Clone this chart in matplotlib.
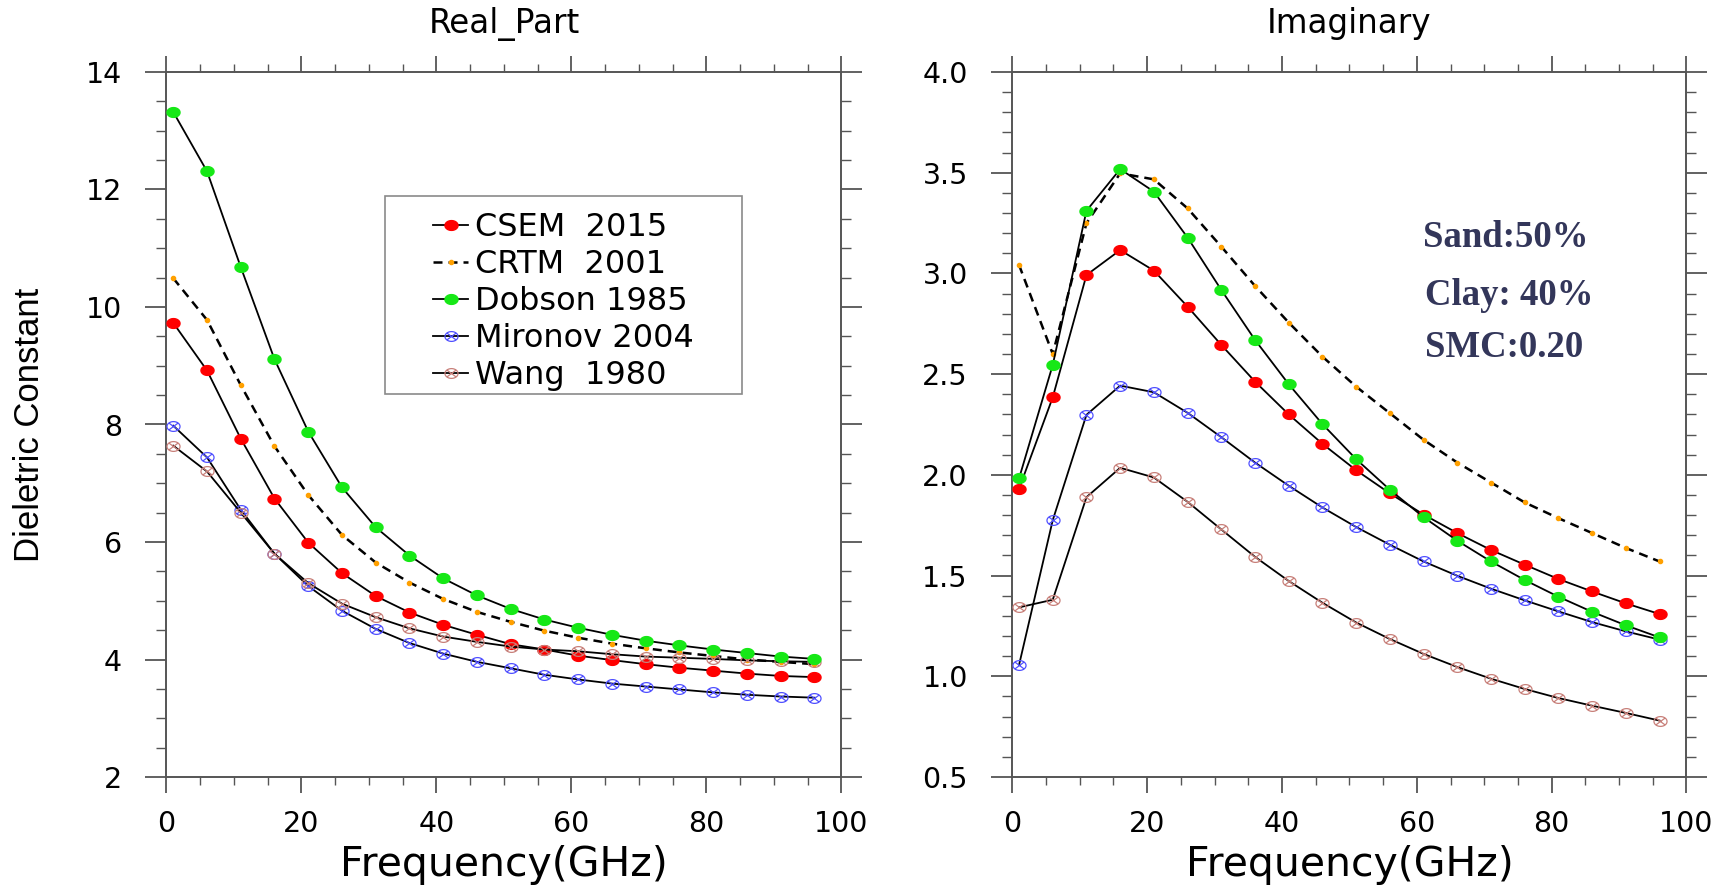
import numpy as np
import matplotlib
matplotlib.use('Agg')
import matplotlib.pyplot as plt
from matplotlib.path import Path
from matplotlib.patches import Rectangle
from matplotlib.ticker import MultipleLocator, FormatStrFormatter

# ---------------- data ----------------
freq = [1, 6, 11, 16, 21, 26, 31, 36, 41, 46, 51, 56, 61, 66, 71, 76, 81, 86, 91, 96]

real_csem = [9.73, 8.92, 7.76, 6.74, 5.99, 5.47, 5.08, 4.80, 4.59, 4.42,
             4.26, 4.17, 4.065, 3.99, 3.92, 3.86, 3.81, 3.76, 3.72, 3.70]
real_crtm = [10.49, 9.78, 8.67, 7.63, 6.80, 6.12, 5.65, 5.31, 5.03, 4.81,
             4.64, 4.49, 4.37, 4.27, 4.19, 4.12, 4.06, 4.00, 3.96, 3.92]
real_dobson = [13.32, 12.31, 10.68, 9.11, 7.88, 6.93, 6.25, 5.77, 5.38, 5.09,
               4.86, 4.68, 4.54, 4.42, 4.32, 4.24, 4.17, 4.11, 4.05, 4.01]
real_mironov = [7.98, 7.44, 6.55, 5.80, 5.25, 4.83, 4.52, 4.28, 4.10, 3.96,
                3.85, 3.74, 3.66, 3.59, 3.54, 3.49, 3.44, 3.40, 3.37, 3.35]
real_wang = [7.64, 7.20, 6.50, 5.80, 5.30, 4.95, 4.72, 4.53, 4.39, 4.30,
             4.22, 4.17, 4.14, 4.09, 4.05, 4.03, 4.01, 3.985, 3.97, 3.96]

imag_csem = [1.931, 2.385, 2.992, 3.116, 3.014, 2.835, 2.645, 2.463, 2.30, 2.154,
             2.023, 1.908, 1.803, 1.711, 1.627, 1.554, 1.483, 1.421, 1.362, 1.309]
imag_crtm = [3.042, 2.60, 3.249, 3.497, 3.467, 3.323, 3.133, 2.938, 2.756, 2.587,
             2.438, 2.306, 2.174, 2.061, 1.962, 1.863, 1.785, 1.711, 1.637, 1.57]
imag_dobson = [1.982, 2.546, 3.311, 3.518, 3.406, 3.178, 2.918, 2.67, 2.45, 2.252,
               2.078, 1.926, 1.79, 1.673, 1.57, 1.478, 1.395, 1.32, 1.253, 1.193]
imag_mironov = [1.056, 1.775, 2.298, 2.443, 2.41, 2.308, 2.187, 2.061, 1.946, 1.838,
                1.741, 1.653, 1.57, 1.499, 1.435, 1.377, 1.322, 1.269, 1.223, 1.182]
imag_wang = [1.342, 1.38, 1.889, 2.035, 1.987, 1.866, 1.729, 1.593, 1.473, 1.365,
             1.267, 1.185, 1.111, 1.046, 0.988, 0.937, 0.892, 0.854, 0.818, 0.78]

series_labels = ['CSEM  2015', 'CRTM  2001', 'Dobson 1985', 'Mironov 2004', 'Wang  1980']
panel_titles = ['Real_Part', 'Imaginary']
x_label = 'Frequency(GHz)'
y_label = 'Dieletric Constant'
notes = ['Sand:50%', 'Clay: 40%', 'SMC:0.20']

# ---------------- figure ----------------
plt.rcParams['font.family'] = ['DejaVu Sans']
W, H = 1733, 888
fig = plt.figure(figsize=(W / 100, H / 100), dpi=100)


def px_axes(x0, x1, ytop, ybot):
    return fig.add_axes([x0 / W, 1 - ybot / H, (x1 - x0) / W, (ybot - ytop) / H])


ax1 = px_axes(166.5, 841.5, 72, 777)
ax2 = px_axes(1012.3, 1686.5, 72, 777)

# elliptical markers (the reference is horizontally stretched)
t = np.linspace(0, 2 * np.pi, 49)
ell_verts = np.column_stack([np.cos(t), 0.75 * np.sin(t)])
ell_codes = [Path.MOVETO] + [Path.LINETO] * (len(t) - 2) + [Path.CLOSEPOLY]
ELL = Path(ell_verts, ell_codes)
c, s = np.cos(np.pi / 4), 0.75 * np.sin(np.pi / 4)
OTIMES = Path(np.vstack([ell_verts, [(-c, -s), (c, s), (-c, s), (c, -s)]]),
              ell_codes + [Path.MOVETO, Path.LINETO, Path.MOVETO, Path.LINETO])

styles = [
    dict(color='black', lw=1.3, marker=ELL, ms=9.4, mfc='#ff0000', mec='#ff0000', zorder=4),
    dict(color='black', lw=1.8, ls=(0, (3.6, 2.4)), marker='o', ms=3.0,
         mfc='#ffa000', mec='#ffa000', zorder=3),
    dict(color='black', lw=1.3, marker=ELL, ms=9.4, mfc='#16e816', mec='#16e816', zorder=5),
    dict(color='black', lw=1.3, marker=OTIMES, ms=9.4, mfc='none', mec='#5050ff',
         mew=0.9, zorder=4),
    dict(color='black', lw=1.3, marker=OTIMES, ms=9.4, mfc='none', mec='#c8807a',
         mew=0.9, zorder=4),
]

real_sets = [real_csem, real_crtm, real_dobson, real_mironov, real_wang]
imag_sets = [imag_csem, imag_crtm, imag_dobson, imag_mironov, imag_wang]

handles = []
for vals, st in zip(real_sets, styles):
    h, = ax1.plot(freq, vals, **st)
    handles.append(h)
for vals, st in zip(imag_sets, styles):
    ax2.plot(freq, vals, **st)

spine_col = '#555555'
for ax, title in zip((ax1, ax2), panel_titles):
    ax.set_xlim(0, 100)
    ax.xaxis.set_major_locator(MultipleLocator(20))
    ax.xaxis.set_minor_locator(MultipleLocator(5))
    ax.tick_params(axis='both', which='both', direction='out', top=True, right=True,
                   color=spine_col, labelcolor='black', labelsize=20.5)
    ax.tick_params(axis='x', which='major', length=11.5, width=1.3, pad=12)
    ax.tick_params(axis='x', which='minor', length=5.5, width=1.0)
    ax.tick_params(axis='y', which='major', length=15, width=1.3, pad=17)
    ax.tick_params(axis='y', which='minor', length=7.2, width=1.0)
    for sp in ax.spines.values():
        sp.set_color(spine_col)
        sp.set_linewidth(1.4)
    ax.set_title(title, fontsize=23.5, y=1.0553, pad=0, va='baseline')
    ax.set_xlabel(x_label, fontsize=29.5)
    ax.xaxis.set_label_coords(0.5, -0.1404)
    ax.xaxis.label.set_va('baseline')

ax1.set_ylim(2, 14)
ax1.yaxis.set_major_locator(MultipleLocator(2))
ax1.yaxis.set_minor_locator(MultipleLocator(0.5))
ax1.set_ylabel(y_label, fontsize=25, family=['Liberation Sans', 'DejaVu Sans'])
ax1.yaxis.set_label_coords(-0.178, 0.5)

ax2.set_ylim(0.5, 4.0)
ax2.yaxis.set_major_locator(MultipleLocator(0.5))
ax2.yaxis.set_minor_locator(MultipleLocator(0.1))
ax2.yaxis.set_major_formatter(FormatStrFormatter('%.1f'))

# legend
fig.legend(handles, series_labels, loc='upper left',
           bbox_to_anchor=(433 / W, 1 - 212 / H), bbox_transform=fig.transFigure,
           frameon=False, borderpad=0, borderaxespad=0, handlelength=1.1,
           handletextpad=0.2, labelspacing=0.19, fontsize=23, numpoints=1)
fig.patches.append(Rectangle((385 / W, 1 - 394 / H), (742 - 385) / W, (394 - 196) / H,
                             transform=fig.transFigure, fill=False, ec='#8a8a8a', lw=1.2))

# annotation
for txt, yb, xl in zip(notes, [246.7, 305, 356.7], [1423, 1425, 1425]):
    fig.text(xl / W, 1 - yb / H, txt, family=['Liberation Serif', 'DejaVu Serif'],
             weight='bold', fontsize=26.5, color='#33365a', va='baseline', ha='left')

fig.savefig('out.png', dpi=100)
